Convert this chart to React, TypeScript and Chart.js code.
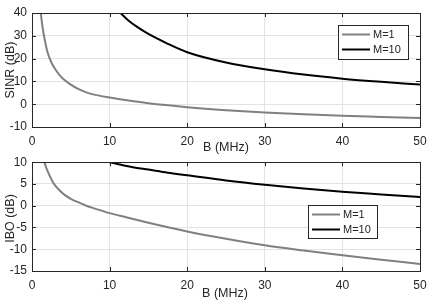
import React, { useEffect, useRef } from "react";
import { Chart, registerables } from "chart.js";

Chart.register(...registerables);

const FONT = "'Liberation Sans', Arial, Helvetica, sans-serif";
const AXIS_COLOR = "#262626";
const GRID_COLOR = "#e3e3e3";
const GRAY = "#808080";
const BLACK = "#000000";

// ---- Data ----
const X_TICKS = [0, 10, 20, 30, 40, 50];

// SINR panel
const sinrB_M1 = [1.14, 1.25, 1.35, 1.5, 1.75, 2, 2.5, 3, 3.5, 4, 5, 6, 7, 8, 10, 12, 15, 20, 25, 30, 35, 40, 45, 50];
const sinr_M1 = [40, 36.5, 34, 30.8, 26.5, 22.8, 18.3, 15.3, 13.0, 11.2, 8.6, 6.6, 5.2, 4.2, 2.9, 1.8, 0.4, -1.3, -2.6, -3.6, -4.4, -5.1, -5.6, -6.1];
const sinrB_M10 = [11.4, 12.5, 13.5, 15, 17.5, 20, 25, 30, 35, 40, 45, 50];
const sinr_M10 = [40, 36.5, 34, 30.8, 26.5, 22.8, 18.3, 15.3, 13.0, 11.2, 9.8, 8.6];
const SINR_TICKS = [-10, 0, 10, 20, 30, 40];

// IBO panel
const iboB_M1 = [1.6, 1.8, 2, 2.3, 2.7, 3, 3.5, 4.2, 5, 6, 7, 8, 10, 12, 15, 20, 25, 30, 35, 40, 45, 50];
const ibo_M1 = [10, 8.9, 8.0, 6.8, 5.4, 4.6, 3.6, 2.5, 1.6, 0.75, 0.0, -0.6, -1.7, -2.6, -3.9, -5.9, -7.6, -9.1, -10.3, -11.4, -12.4, -13.4];
const iboB_M10 = [10, 11, 12, 13, 15, 17.5, 20, 25, 30, 35, 40, 45, 50];
const ibo_M10 = [10, 9.6, 9.2, 8.85, 8.3, 7.6, 7.0, 5.8, 4.8, 3.95, 3.2, 2.6, 2.0];
const IBO_TICKS = [-15, -10, -5, 0, 5, 10];

const SERIES_LABELS = ["M=1", "M=10"];
const X_LABEL = "B (MHz)";

const pts = (xs: number[], ys: number[]) => xs.map((x, i) => ({ x, y: ys[i] }));

const matlabPlugin = {
  id: "matlabDecor",
  afterDraw(chart: any, _args: any, opts: any) {
    const { ctx, chartArea: a, scales } = chart;
    const xs = scales.x;
    const ys = scales.y;
    ctx.save();
    // inward ticks
    ctx.strokeStyle = AXIS_COLOR;
    ctx.lineWidth = 1;
    const tl = 4;
    ctx.beginPath();
    xs.ticks.forEach((t: any) => {
      const px = Math.round(xs.getPixelForValue(t.value)) + 0.5;
      ctx.moveTo(px, a.bottom);
      ctx.lineTo(px, a.bottom - tl);
      ctx.moveTo(px, a.top);
      ctx.lineTo(px, a.top + tl);
    });
    ys.ticks.forEach((t: any) => {
      const py = Math.round(ys.getPixelForValue(t.value)) + 0.5;
      ctx.moveTo(a.left, py);
      ctx.lineTo(a.left + tl, py);
      ctx.moveTo(a.right, py);
      ctx.lineTo(a.right - tl, py);
    });
    ctx.stroke();
    // box
    ctx.strokeRect(Math.round(a.left) + 0.5, Math.round(a.top) + 0.5, Math.round(a.right - a.left), Math.round(a.bottom - a.top));

    // titles
    ctx.fillStyle = AXIS_COLOR;
    ctx.font = `${opts.titleSize}px ${FONT}`;
    ctx.textAlign = "center";
    ctx.textBaseline = "alphabetic";
    ctx.fillText(opts.xTitle, opts.xTitleX, opts.xTitleY);
    ctx.save();
    ctx.translate(opts.yTitleX, opts.yTitleY);
    ctx.rotate(-Math.PI / 2);
    ctx.fillText(opts.yTitle, 0, 0);
    ctx.restore();

    // legend
    const L = opts.legend;
    ctx.fillStyle = "#ffffff";
    ctx.fillRect(L.x, L.y, L.w, L.h);
    ctx.strokeStyle = AXIS_COLOR;
    ctx.lineWidth = 1;
    ctx.strokeRect(L.x + 0.5, L.y + 0.5, L.w, L.h);
    ctx.font = `${opts.legendSize}px ${FONT}`;
    ctx.textAlign = "left";
    ctx.textBaseline = "middle";
    chart.data.datasets.forEach((ds: any, i: number) => {
      const ry = L.y + 9.5 + i * 15;
      ctx.strokeStyle = ds.borderColor;
      ctx.lineWidth = 2;
      ctx.beginPath();
      ctx.moveTo(L.x + 4, ry);
      ctx.lineTo(L.x + 32, ry);
      ctx.stroke();
      ctx.fillStyle = AXIS_COLOR;
      ctx.fillText(ds.label, L.x + 35, ry + 0.5);
    });
    ctx.restore();
  },
};

type PanelProps = {
  top: number;
  height: number;
  areaTop: number;
  areaBottom: number;
  yTicks: number[];
  series: { x: number[]; y: number[] }[];
  yTitle: string;
  yTitleY: number;
  xTitleX: number;
  xTitleY: number;
  legend: { x: number; y: number; w: number; h: number };
};

function Panel(p: PanelProps) {
  const ref = useRef<HTMLCanvasElement | null>(null);
  useEffect(() => {
    if (!ref.current) return;
    const colors = [GRAY, BLACK];
    const chart = new Chart(ref.current, {
      type: "line",
      data: {
        datasets: p.series.map((s, i) => ({
          label: SERIES_LABELS[i],
          data: pts(s.x, s.y),
          borderColor: colors[i],
          backgroundColor: colors[i],
          borderWidth: 2,
          pointRadius: 0,
          fill: false,
          cubicInterpolationMode: "monotone" as const,
        })),
      },
      options: {
        responsive: false,
        animation: false,
        events: [],
        layout: { padding: { top: p.areaTop, right: 16, left: 0, bottom: 0 } },
        plugins: {
          legend: { display: false },
          tooltip: { enabled: false },
          matlabDecor: {
            xTitle: X_LABEL,
            yTitle: p.yTitle,
            xTitleX: p.xTitleX,
            xTitleY: p.xTitleY,
            yTitleX: 13.5,
            yTitleY: p.yTitleY,
            titleSize: 12.5,
            legendSize: 11,
            legend: p.legend,
          },
        } as any,
        scales: {
          x: {
            type: "linear",
            min: 0,
            max: 50,
            afterBuildTicks: (s: any) => {
              s.ticks = X_TICKS.map((v) => ({ value: v }));
            },
            afterFit: (s: any) => {
              s.height = p.height - p.areaBottom;
            },
            ticks: {
              font: { family: FONT, size: 12 },
              color: AXIS_COLOR,
              padding: 7,
              maxRotation: 0,
            },
            grid: { color: GRID_COLOR, drawTicks: false, lineWidth: 1 },
            border: { display: false },
          },
          y: {
            type: "linear",
            min: p.yTicks[0],
            max: p.yTicks[p.yTicks.length - 1],
            afterBuildTicks: (s: any) => {
              s.ticks = p.yTicks.map((v) => ({ value: v }));
            },
            afterFit: (s: any) => {
              s.width = 32;
            },
            ticks: {
              font: { family: FONT, size: 12 },
              color: AXIS_COLOR,
              padding: 5,
            },
            grid: { color: GRID_COLOR, drawTicks: false, lineWidth: 1 },
            border: { display: false },
          },
        },
      },
      plugins: [matlabPlugin],
    });
    return () => chart.destroy();
  }, []);
  return (
    <canvas
      ref={ref}
      width={436}
      height={p.height}
      style={{ position: "absolute", left: 0, top: p.top, width: 436, height: p.height }}
    />
  );
}

export default function App() {
  return (
    <div style={{ position: "fixed", left: 0, top: 0, width: 436, height: 301, background: "#fff", overflow: "hidden" }}>
      <Panel
        top={0}
        height={160}
        areaTop={13}
        areaBottom={127}
        yTicks={SINR_TICKS}
        series={[
          { x: sinrB_M1, y: sinr_M1 },
          { x: sinrB_M10, y: sinr_M10 },
        ]}
        yTitle="SINR (dB)"
        yTitleY={70}
        xTitleX={226}
        xTitleY={151}
        legend={{ x: 338, y: 25, w: 70, h: 34 }}
      />
      <Panel
        top={150}
        height={151}
        areaTop={8}
        areaBottom={121}
        yTicks={IBO_TICKS}
        series={[
          { x: iboB_M1, y: ibo_M1 },
          { x: iboB_M10, y: ibo_M10 },
        ]}
        yTitle="IBO (dB)"
        yTitleY={68.5}
        xTitleX={225}
        xTitleY={147}
        legend={{ x: 308, y: 55, w: 69, h: 33 }}
      />
    </div>
  );
}
